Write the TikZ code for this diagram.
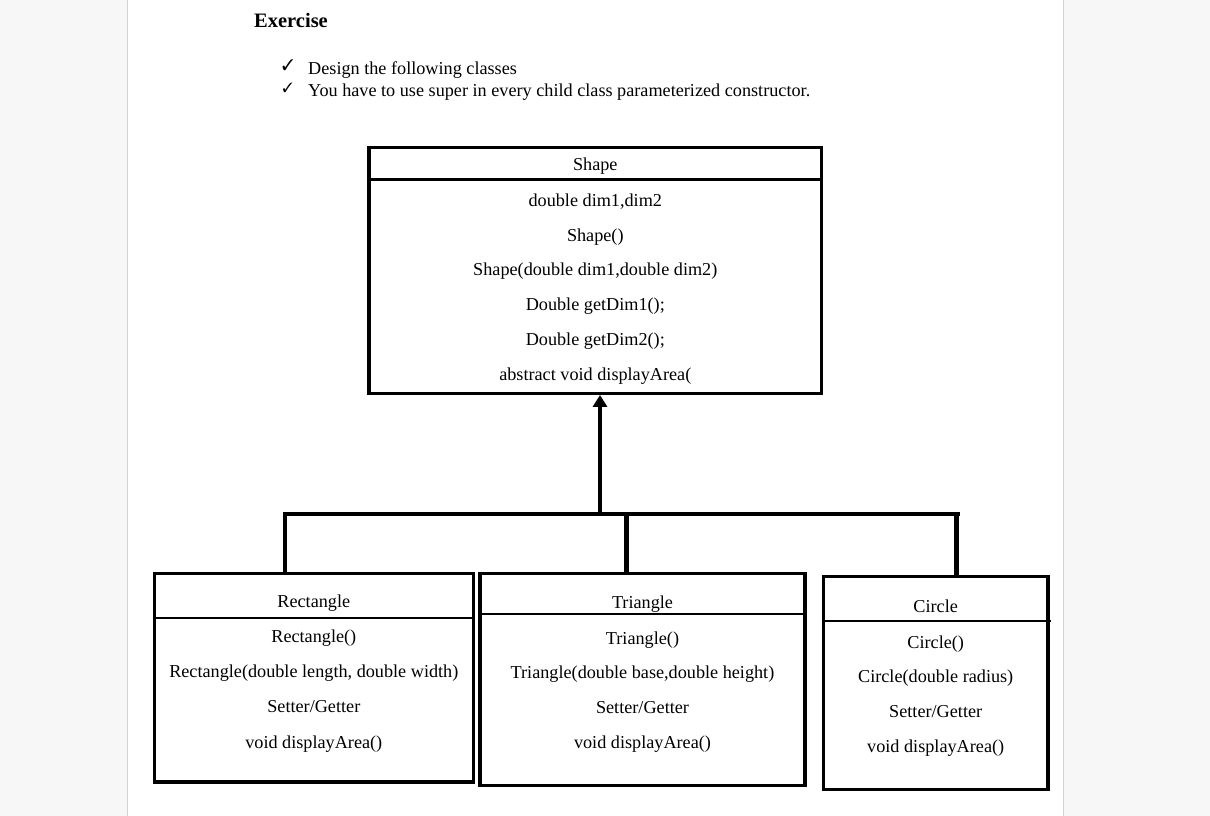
\documentclass[tikz,border=0pt]{standalone}
\usepackage{fontspec}
\setmainfont{Liberation Serif}
\usepackage{pifont}
\usetikzlibrary{arrows.meta}
\tikzset{
  umlbox/.style={draw=black, line width=3.3pt, inner sep=0pt, fill=none},
  divider/.style={draw=black, line width=2.3pt},
  conn/.style={draw=black, line width=4.5pt},
  member/.style={inner sep=0pt, anchor=base, font=\fontsize{18.2}{20}\selectfont},
  bullettext/.style={inner sep=0pt, anchor=base west, font=\fontsize{18.2}{20}\selectfont},
  checkmark/.style={inner sep=0pt, anchor=base west},
}
\begin{document}
\begin{tikzpicture}[x=1pt,y=-1pt]
\useasboundingbox (0,0) rectangle (1210,816);
% page
\fill[gray!6] (0,0) rectangle (1210,816);
\fill[white] (128,0) rectangle (1062.5,816);
\draw[gray!35, line width=1pt] (127.5,0) -- (127.5,816);
\draw[gray!35, line width=1pt] (1063,0) -- (1063,816);

% heading
\node[inner sep=0pt, anchor=base west, font=\bfseries\fontsize{20.5}{22}\selectfont] (title) at (254,27.3) {Exercise};
\node[checkmark, font=\fontsize{15.5}{16}\selectfont] (c1) at (282,70.5) {\ding{51}};
\node[bullettext] (b1) at (308,74.5) {Design the following classes};
\node[checkmark, font=\fontsize{13.5}{15}\selectfont] (c2) at (282.5,92.5) {\ding{51}};
\node[bullettext] (b2) at (308,96) {You have to use super in every child class parameterized constructor.};

% Shape
\node[umlbox, minimum width=452.7pt, minimum height=245.6pt] (shape) at (595.3,270.5) {};
\draw[divider] ([yshift=-33.45pt]shape.north west) -- ([yshift=-33.45pt]shape.north east);
\node[member] (s0) at (595.3,170.5) {Shape};
\node[member] (s1) at (595.3,206.5) {double dim1,dim2};
\node[member] (s2) at (595.3,241.5) {Shape()};
\node[member] (s3) at (595.3,275.5) {Shape(double dim1,double dim2)};
\node[member] (s4) at (595.3,310.5) {Double getDim1();};
\node[member] (s5) at (595.3,345.5) {Double getDim2();};
\node[member] (s6) at (595.3,380.5) {abstract void displayArea(};

% Rectangle
\node[umlbox, minimum width=319pt, minimum height=208.7pt] (rect) at (313.8,677.65) {};
\draw[divider] ([yshift=-46.35pt]rect.north west) -- ([yshift=-46.35pt]rect.north east);
\node[member] (r0) at (313.8,607.5) {Rectangle};
\node[member] (r1) at (313.8,642.5) {Rectangle()};
\node[member] (r2) at (313.8,677.5) {Rectangle(double length, double width)};
\node[member] (r3) at (313.8,712.5) {Setter/Getter};
\node[member] (r4) at (313.8,748) {void displayArea()};

% Triangle
\node[umlbox, minimum width=325pt, minimum height=212.4pt] (tri) at (642.5,679.5) {};
\draw[divider] ([yshift=-42.65pt]tri.north west) -- ([yshift=-42.65pt]tri.north east);
\node[member] (t0) at (642.5,608.5) {Triangle};
\node[member] (t1) at (642.5,644) {Triangle()};
\node[member] (t2) at (642.5,678.5) {Triangle(double base,double height)};
\node[member] (t3) at (642.5,713.5) {Setter/Getter};
\node[member] (t4) at (642.5,748.5) {void displayArea()};

% Circle
\node[umlbox, minimum width=224.7pt, minimum height=213.4pt] (circ) at (935.7,683) {};
\draw[divider] ([yshift=-46.65pt]circ.north west) -- ([yshift=-46.65pt,xshift=1pt]circ.north east);
\node[member] (k0) at (935.7,612.5) {Circle};
\node[member] (k1) at (935.7,648) {Circle()};
\node[member] (k2) at (935.7,682.5) {Circle(double radius)};
\node[member] (k3) at (935.7,717.5) {Setter/Getter};
\node[member] (k4) at (935.7,752.5) {void displayArea()};

% connectors
\coordinate (busL) at (283,514);
\coordinate (busR) at (960,514);
\coordinate (dL) at (285,514);
\coordinate (dM) at (626.5,514);
\coordinate (dR) at (956.5,514);
\coordinate (aB) at (600,516);
\draw[conn] (busL) -- (busR);
\draw[conn] (dL) -- (dL |- rect.north);
\draw[conn] (dM) -- (dM |- tri.north);
\draw[conn] (dR) -- (dR |- circ.north);
\draw[conn, -{Triangle[width=14pt,length=12pt]}] (aB) -- (aB |- shape.south);
\end{tikzpicture}
\end{document}
